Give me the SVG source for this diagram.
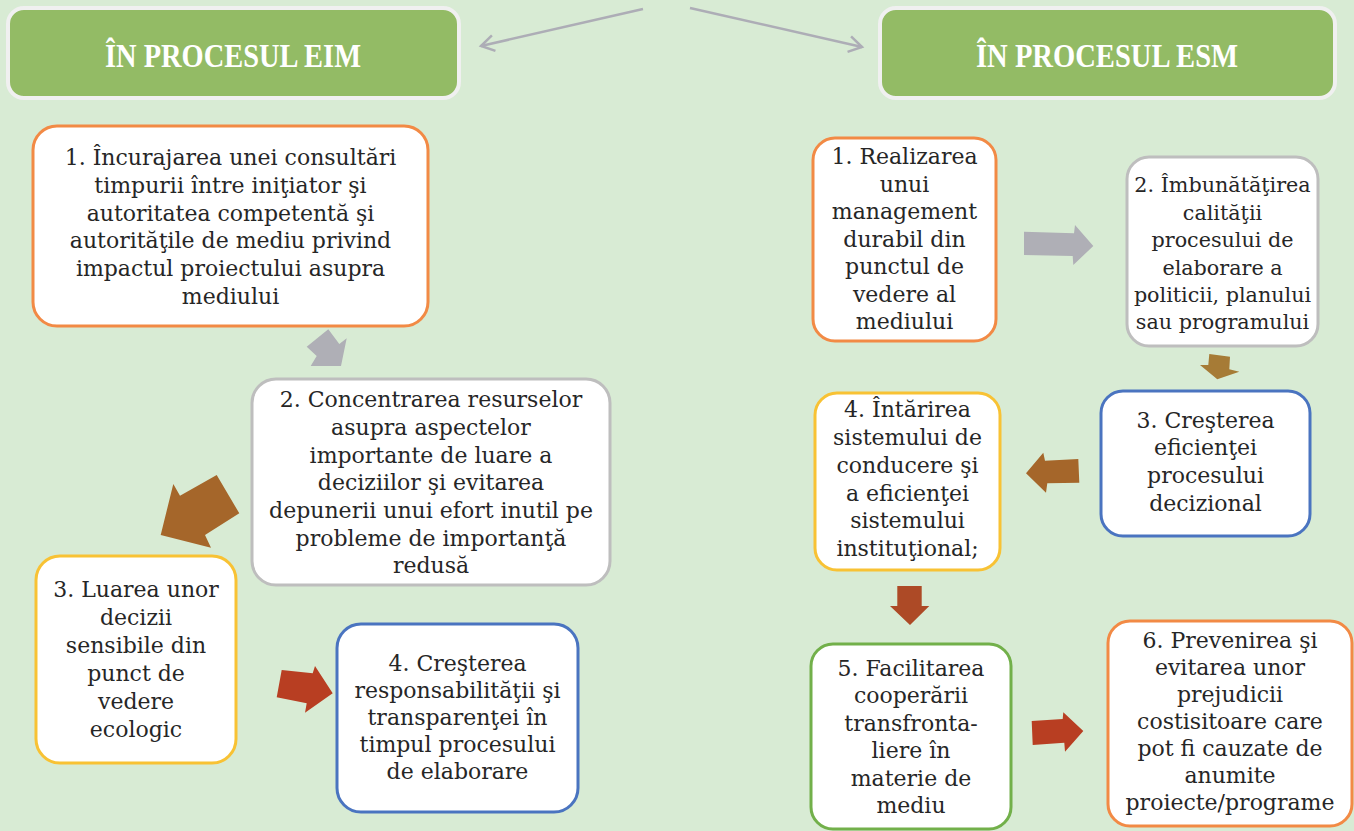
<svg xmlns="http://www.w3.org/2000/svg" width="1354" height="831" viewBox="0 0 1354 831">
<style>
.hdr{fill:#93BB65;stroke:#F0F0F0;stroke-width:4}
.ht{font-family:"Liberation Serif","DejaVu Serif",serif;font-weight:bold;font-size:33px;fill:#FFFFFF;text-anchor:middle}
.box{fill:#FFFFFF;stroke-width:3}
.or{stroke:#F28A45}
.gy{stroke:#BEBEBE}
.ye{stroke:#F8C234}
.bl{stroke:#4A74C0}
.gr{stroke:#72B04A}
.t{font-family:"DejaVu Serif","Liberation Serif",serif;font-size:22px;fill:#262626;text-anchor:middle}
.s{font-size:20.7px}
.ln{stroke:#ADADB6;stroke-width:2.5;fill:none}
</style>
<defs>
<marker id="chev" markerWidth="20" markerHeight="20" refX="14" refY="10" orient="auto" markerUnits="userSpaceOnUse">
<polyline points="1,2 14,10 1,18" fill="none" stroke="#ADADB6" stroke-width="2.5"/>
</marker>
</defs>
<rect width="1354" height="831" fill="#D8EBD4"/>
<g id="connectors">
<line class="ln" x1="643" y1="9" x2="481" y2="46" marker-end="url(#chev)"/>
<line class="ln" x1="690" y1="8" x2="862" y2="47" marker-end="url(#chev)"/>
<polygon fill="#AFAFB6" points="328.3,329.3 306.7,346.7 316.7,356 310.7,366 341,366 346.7,338.3 339.3,344"/>
<polygon fill="#A5662A" points="216.7,475 239.3,513.3 205,535 211,547.7 160.7,535 173.3,484 180,495.7"/>
<polygon fill="#B83E22" points="281.7,670 312.7,673.3 315,666 332.7,693.3 305,712.7 306.7,703.3 276.7,697.3"/>
<polygon fill="#AFAFB6" points="1024,231.7 1074,233.3 1075,225 1093.3,246 1073.3,265 1072.7,256 1024,255"/>
<polygon fill="#A67B36" points="1209.3,354 1230,356.7 1229.3,369.3 1239.3,371.7 1217.3,379.3 1200,365 1208.3,365"/>
<polygon fill="#A5662A" points="1078.3,459 1079.3,482.7 1047.3,483.3 1046,492.7 1026,473.3 1043.3,452.7 1045,460.7"/>
<polygon fill="#AD4A26" points="897.3,586 921.7,586 921.7,606 929.3,606 910,625 890,606 897.3,606"/>
<polygon fill="#B83E22" points="1031.7,721 1062.7,719 1063.3,712.3 1083.3,731 1065,751.7 1064.3,742.7 1032.7,745"/>
</g>
<g id="header-eim">
<rect class="hdr" x="8" y="8" width="451" height="90" rx="16"/>
<text class="ht" x="233" y="67" textLength="256" lengthAdjust="spacingAndGlyphs">ÎN PROCESUL EIM</text>
</g>
<g id="header-esm">
<rect class="hdr" x="880" y="8" width="455" height="90" rx="16"/>
<text class="ht" x="1107" y="67" textLength="262" lengthAdjust="spacingAndGlyphs">ÎN PROCESUL ESM</text>
</g>
<g id="eim1">
<rect class="box or" x="33" y="126" width="395" height="200" rx="24"/>
<text class="t" x="230.5" y="165">1. Încurajarea unei consultări</text>
<text class="t" x="230.5" y="193">timpurii între iniţiator şi</text>
<text class="t" x="230.5" y="221">autoritatea competentă şi</text>
<text class="t" x="230.5" y="248">autorităţile de mediu privind</text>
<text class="t" x="230.5" y="276">impactul proiectului asupra</text>
<text class="t" x="230.5" y="304">mediului</text>
</g>
<g id="eim2">
<rect class="box gy" x="252" y="379" width="358" height="206" rx="24"/>
<text class="t" x="431" y="407">2. Concentrarea resurselor</text>
<text class="t" x="431" y="435">asupra aspectelor</text>
<text class="t" x="431" y="463">importante de luare a</text>
<text class="t" x="431" y="490">deciziilor şi evitarea</text>
<text class="t" x="431" y="518">depunerii unui efort inutil pe</text>
<text class="t" x="431" y="546">probleme de importanţă</text>
<text class="t" x="431" y="573">redusă</text>
</g>
<g id="eim3">
<rect class="box ye" x="36" y="556" width="200" height="207" rx="24"/>
<text class="t" x="136" y="597">3. Luarea unor</text>
<text class="t" x="136" y="625">decizii</text>
<text class="t" x="136" y="653">sensibile din</text>
<text class="t" x="136" y="681">punct de</text>
<text class="t" x="136" y="709">vedere</text>
<text class="t" x="136" y="737">ecologic</text>
</g>
<g id="eim4">
<rect class="box bl" x="337" y="624" width="241" height="188" rx="24"/>
<text class="t" x="457.5" y="671">4. Creşterea</text>
<text class="t" x="457.5" y="698">responsabilităţii şi</text>
<text class="t" x="457.5" y="725">transparenţei în</text>
<text class="t" x="457.5" y="752">timpul procesului</text>
<text class="t" x="457.5" y="779">de elaborare</text>
</g>
<g id="esm1">
<rect class="box or" x="813" y="138" width="183" height="203" rx="22"/>
<text class="t" x="904.5" y="164">1. Realizarea</text>
<text class="t" x="904.5" y="191.5">unui</text>
<text class="t" x="904.5" y="219">management</text>
<text class="t" x="904.5" y="246.5">durabil din</text>
<text class="t" x="904.5" y="274">punctul de</text>
<text class="t" x="904.5" y="301.5">vedere al</text>
<text class="t" x="904.5" y="329">mediului</text>
</g>
<g id="esm2">
<rect class="box gy" x="1127" y="157" width="191" height="189" rx="22"/>
<text class="t s" x="1222.5" y="192">2. Îmbunătăţirea</text>
<text class="t s" x="1222.5" y="220">calităţii</text>
<text class="t s" x="1222.5" y="247">procesului de</text>
<text class="t s" x="1222.5" y="275">elaborare a</text>
<text class="t s" x="1222.5" y="302">politicii, planului</text>
<text class="t s" x="1222.5" y="329">sau programului</text>
</g>
<g id="esm3">
<rect class="box bl" x="1101" y="391" width="209" height="145" rx="22"/>
<text class="t" x="1205.5" y="428">3. Creşterea</text>
<text class="t" x="1205.5" y="455">eficienţei</text>
<text class="t" x="1205.5" y="483">procesului</text>
<text class="t" x="1205.5" y="511">decizional</text>
</g>
<g id="esm4">
<rect class="box ye" x="815" y="393" width="185" height="177" rx="22"/>
<text class="t" x="907.5" y="417">4. Întărirea</text>
<text class="t" x="907.5" y="445">sistemului de</text>
<text class="t" x="907.5" y="473">conducere şi</text>
<text class="t" x="907.5" y="501">a eficienţei</text>
<text class="t" x="907.5" y="528">sistemului</text>
<text class="t" x="907.5" y="556">instituţional;</text>
</g>
<g id="esm5">
<rect class="box gr" x="811" y="644" width="200" height="185" rx="22"/>
<text class="t" x="911" y="676">5. Facilitarea</text>
<text class="t" x="911" y="703">cooperării</text>
<text class="t" x="911" y="731">transfronta-</text>
<text class="t" x="911" y="758">liere în</text>
<text class="t" x="911" y="786">materie de</text>
<text class="t" x="911" y="813">mediu</text>
</g>
<g id="esm6">
<rect class="box or" x="1108" y="621" width="244" height="205" rx="22"/>
<text class="t" x="1230" y="648">6. Prevenirea şi</text>
<text class="t" x="1230" y="675">evitarea unor</text>
<text class="t" x="1230" y="702">prejudicii</text>
<text class="t" x="1230" y="729">costisitoare care</text>
<text class="t" x="1230" y="756">pot fi cauzate de</text>
<text class="t" x="1230" y="783">anumite</text>
<text class="t" x="1230" y="810">proiecte/programe</text>
</g>
</svg>
